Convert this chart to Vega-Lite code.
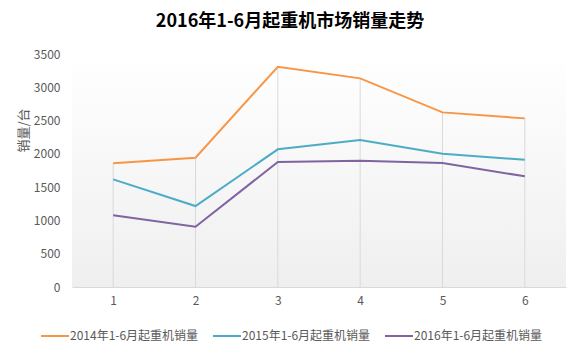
{
  "$schema": "https://vega.github.io/schema/vega-lite/v6.json",
  "width": 494,
  "height": 233,
  "autosize": {"type": "none"},
  "padding": {"left": 72, "top": 54, "right": 14, "bottom": 64},
  "background": "#ffffff",
  "config": {
    "font": "Noto Sans CJK SC",
    "view": {
      "stroke": null,
      "fill": {"gradient": "linear", "x1": 0, "y1": 0, "x2": 0, "y2": 1,
        "stops": [{"offset": 0, "color": "#ffffff"}, {"offset": 1, "color": "#efefef"}]}
    }
  },
  "title": {
    "text": "2016年1-6月起重机市场销量走势",
    "fontSize": 18,
    "fontWeight": "bold",
    "color": "#000000",
    "anchor": "middle",
    "frame": "group",
    "dx": -29,
    "offset": 17
  },
  "data": {
    "values": [
      {"month": "1", "series": "2014年1-6月起重机销量", "value": 1860},
      {"month": "2", "series": "2014年1-6月起重机销量", "value": 1942},
      {"month": "3", "series": "2014年1-6月起重机销量", "value": 3309},
      {"month": "4", "series": "2014年1-6月起重机销量", "value": 3134},
      {"month": "5", "series": "2014年1-6月起重机销量", "value": 2623},
      {"month": "6", "series": "2014年1-6月起重机销量", "value": 2533},
      {"month": "1", "series": "2015年1-6月起重机销量", "value": 1617},
      {"month": "2", "series": "2015年1-6月起重机销量", "value": 1216},
      {"month": "3", "series": "2015年1-6月起重机销量", "value": 2068},
      {"month": "4", "series": "2015年1-6月起重机销量", "value": 2208},
      {"month": "5", "series": "2015年1-6月起重机销量", "value": 2002},
      {"month": "6", "series": "2015年1-6月起重机销量", "value": 1912},
      {"month": "1", "series": "2016年1-6月起重机销量", "value": 1077},
      {"month": "2", "series": "2016年1-6月起重机销量", "value": 906},
      {"month": "3", "series": "2016年1-6月起重机销量", "value": 1878},
      {"month": "4", "series": "2016年1-6月起重机销量", "value": 1897},
      {"month": "5", "series": "2016年1-6月起重机销量", "value": 1862},
      {"month": "6", "series": "2016年1-6月起重机销量", "value": 1662}
    ]
  },
  "encoding": {
    "x": {
      "field": "month",
      "type": "ordinal",
      "sort": null,
      "scale": {"type": "point", "padding": 0.5},
      "axis": {
        "title": null,
        "labelAngle": 0,
        "grid": false,
        "ticks": false,
        "domainColor": "#d9d9d9",
        "labelColor": "#595959",
        "labelFontSize": 12,
        "labelPadding": 8
      }
    },
    "y": {
      "field": "value",
      "type": "quantitative",
      "scale": {"domain": [0, 3500]},
      "axis": {
        "title": "销量/台",
        "titleFontSize": 13,
        "titleFontWeight": "normal",
        "titleColor": "#595959",
        "titleX": -49,
        "titleY": 76,
        "titleAlign": "center",
        "titleBaseline": "middle",
        "titleAngle": -90,
        "values": [0, 500, 1000, 1500, 2000, 2500, 3000, 3500],
        "format": "d",
        "grid": false,
        "domain": false,
        "ticks": false,
        "labelColor": "#595959",
        "labelFontSize": 12,
        "labelPadding": 12
      }
    }
  },
  "layer": [
    {
      "transform": [{"filter": "datum.series === '2014年1-6月起重机销量'"}],
      "mark": {"type": "rule", "color": "#d9d9d9", "strokeWidth": 1},
      "encoding": {
        "y2": {"datum": 0}
      }
    },
    {
      "mark": {"type": "line", "strokeWidth": 2},
      "encoding": {
        "color": {
          "field": "series",
          "type": "nominal",
          "scale": {
            "domain": ["2014年1-6月起重机销量", "2015年1-6月起重机销量", "2016年1-6月起重机销量"],
            "range": ["#F79646", "#4BACC6", "#8064A2"]
          },
          "legend": {
            "title": null,
            "orient": "none",
            "direction": "horizontal",
            "legendX": -32,
            "legendY": 267,
            "symbolType": "stroke",
            "symbolSize": 784,
            "symbolStrokeWidth": 2,
            "labelFontSize": 12,
            "labelColor": "#595959",
            "labelOffset": 0,
            "columnPadding": 10,
            "labelLimit": 300
          }
        }
      }
    }
  ]
}
